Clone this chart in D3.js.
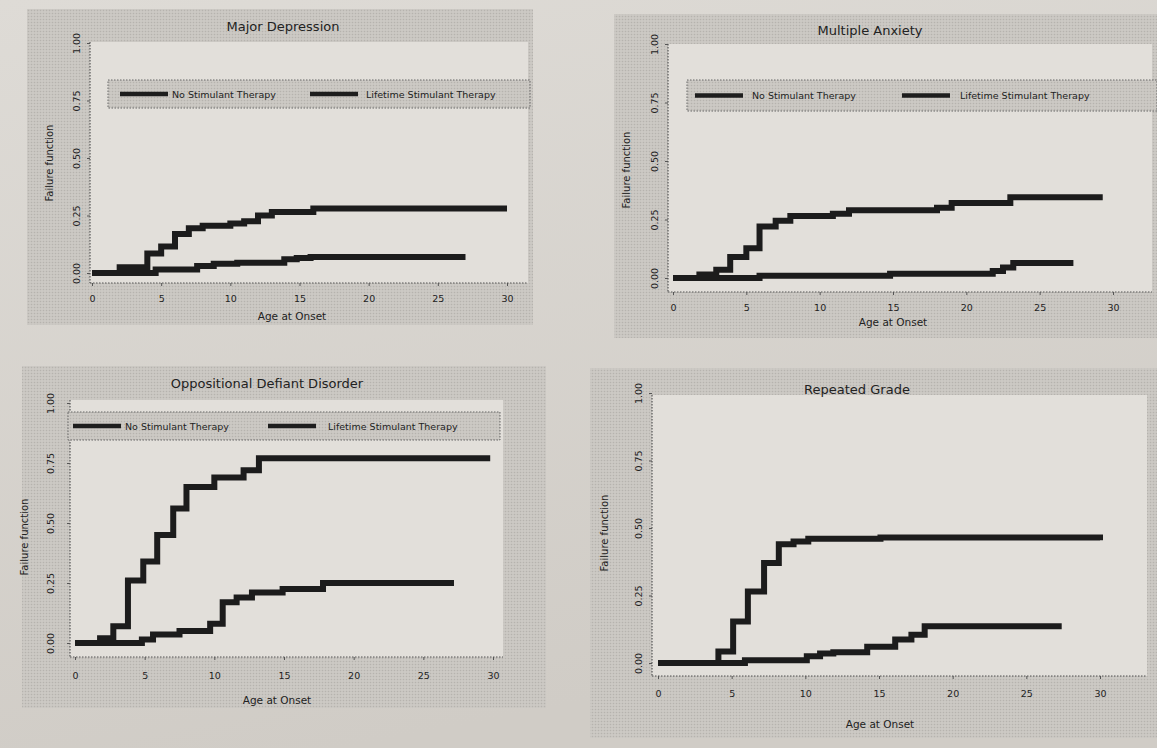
<!DOCTYPE html>
<html lang="en">
<head>
<meta charset="UTF-8">
<title>Failure functions by stimulant therapy</title>
<script src="https://d3js.org/d3.v7.min.js"></script>
<style>
  html, body { margin: 0; padding: 0; background: #d6d2cc; }
  svg { display: block; }
  text { font-family: "DejaVu Sans", Verdana, sans-serif; fill: #222; }
</style>
</head>
<body>
<svg id="chart"></svg>
<script>
// ---- data ----
var panelTitles = ["Major Depression", "Multiple Anxiety", "Oppositional Defiant Disorder", "Repeated Grade"];
var seriesNames = ["No Stimulant Therapy", "Lifetime Stimulant Therapy"];
var xTicks = [0, 5, 10, 15, 20, 25, 30];
var yTicks = [0, 0.25, 0.5, 0.75, 1];

// step curves: ages where the function jumps, and the value after each jump
var mdAgesA = [0, 2, 4, 5, 6, 7, 8, 10, 11, 12, 13, 16, 30];
var mdValsA = [0, 0.025, 0.085, 0.115, 0.17, 0.195, 0.205, 0.215, 0.225, 0.25, 0.265, 0.28, 0.28];
var mdAgesB = [0, 4.6, 7.6, 8.8, 10.5, 13.9, 14.8, 15.8, 27];
var mdValsB = [0, 0.015, 0.03, 0.04, 0.045, 0.06, 0.065, 0.07, 0.07];

var maAgesA = [0, 1.8, 2.95, 3.9, 5, 5.9, 7, 8, 10.9, 12, 18, 19, 23, 29.3];
var maValsA = [0, 0.015, 0.035, 0.09, 0.127, 0.22, 0.245, 0.265, 0.275, 0.29, 0.3, 0.32, 0.345, 0.345];
var maAgesB = [0, 5.9, 14.8, 21.8, 22.5, 23.2, 27.3];
var maValsB = [0, 0.01, 0.018, 0.03, 0.045, 0.064, 0.064];

var oddAgesA = [0, 1.8, 2.75, 3.8, 4.9, 5.9, 7.05, 8, 10, 12.1, 13.2, 29.8];
var oddValsA = [0, 0.02, 0.07, 0.26, 0.34, 0.45, 0.56, 0.65, 0.69, 0.72, 0.77, 0.77];
var oddAgesB = [0, 4.8, 5.6, 7.5, 9.7, 10.6, 11.6, 12.7, 14.9, 17.8, 27.2];
var oddValsB = [0, 0.015, 0.035, 0.05, 0.08, 0.17, 0.19, 0.21, 0.225, 0.25, 0.25];

var rgAgesA = [0, 4.1, 5.1, 6.1, 7.2, 8.2, 9.2, 10.2, 15.1, 30];
var rgValsA = [0, 0.043, 0.154, 0.265, 0.37, 0.44, 0.45, 0.46, 0.465, 0.455];
var rgAgesB = [0, 5.9, 10.1, 11, 11.9, 14.2, 16.1, 17.2, 18.1, 27.4];
var rgValsB = [0, 0.01, 0.025, 0.035, 0.04, 0.06, 0.087, 0.105, 0.136, 0.136];

function pairs(ages, vals) {
  return ages.map(function (a, i) { return { age: a, value: vals[i] }; });
}

// ---- layout of the four panels (pixel boxes) ----
var panels = [
  { title: panelTitles[0], series: [pairs(mdAgesA, mdValsA), pairs(mdAgesB, mdValsB)],
    outer: [27, 9, 533, 325], plot: [90, 42, 528, 283], xr: [92, 507], yr: [273, 43],
    legend: { box: [108, 80, 530, 108], items: [[120, 172], [310, 366]] },
    titleXY: [283, 31], xTitle: [292, 320], yTitle: [53, 163], xPad: 9, yPad: 5 },
  { title: panelTitles[1], series: [pairs(maAgesA, maValsA), pairs(maAgesB, maValsB)],
    outer: [614, 14, 1157, 338], plot: [668, 44, 1152, 292], xr: [673, 1113], yr: [278, 44],
    legend: { box: [687, 80, 1157, 111], items: [[695, 752], [902, 960]] },
    titleXY: [870, 35], xTitle: [893, 326], yTitle: [630, 170], xPad: 9, yPad: 5 },
  { title: panelTitles[2], series: [pairs(oddAgesA, oddValsA), pairs(oddAgesB, oddValsB)],
    outer: [22, 366, 546, 708], plot: [70, 400, 503, 657], xr: [75, 493], yr: [643, 403],
    legend: { box: [68, 412, 500, 440], items: [[73, 125], [268, 328]] },
    titleXY: [267, 388], xTitle: [277, 704], yTitle: [28, 537], xPad: 12, yPad: 11 },
  { title: panelTitles[3], series: [pairs(rgAgesA, rgValsA), pairs(rgAgesB, rgValsB)],
    outer: [590, 368, 1157, 738], plot: [652, 395, 1147, 676], xr: [658, 1100], yr: [663, 393],
    legend: null,
    titleXY: [857, 394], xTitle: [880, 728], yTitle: [608, 533], xPad: 11, yPad: 5 }
];

var W = 1157, H = 748;
var svg = d3.select("#chart").attr("width", W).attr("height", H);

// halftone textures
var defs = svg.append("defs");
var pat = defs.append("pattern").attr("id", "dots")
    .attr("width", 3).attr("height", 3).attr("patternUnits", "userSpaceOnUse");
pat.append("rect").attr("width", 3).attr("height", 3).attr("fill", "#ccc9c4");
pat.append("circle").attr("cx", 1.5).attr("cy", 1.5).attr("r", 0.8).attr("fill", "#b6b3ae");

var grad = defs.append("linearGradient").attr("id", "page")
    .attr("x1", 0).attr("y1", 0).attr("x2", 0.3).attr("y2", 1);
grad.append("stop").attr("offset", 0).attr("stop-color", "#dedbd6");
grad.append("stop").attr("offset", 1).attr("stop-color", "#d0ccc6");

svg.append("rect").attr("width", W).attr("height", H).attr("fill", "url(#page)");

var fmt = d3.format(".2f");

panels.forEach(function (p) {
  var g = svg.append("g");

  var x = d3.scaleLinear().domain([0, 30]).range(p.xr);
  var y = d3.scaleLinear().domain([0, 1]).range(p.yr);

  // outer panel with dotted texture
  g.append("rect")
      .attr("x", p.outer[0]).attr("y", p.outer[1])
      .attr("width", p.outer[2] - p.outer[0]).attr("height", p.outer[3] - p.outer[1])
      .attr("fill", "url(#dots)");

  // plot area
  g.append("rect")
      .attr("x", p.plot[0]).attr("y", p.plot[1])
      .attr("width", p.plot[2] - p.plot[0]).attr("height", p.plot[3] - p.plot[1])
      .attr("fill", "#e2dfda");

  // title
  g.append("text")
      .attr("x", p.titleXY[0]).attr("y", p.titleXY[1])
      .attr("text-anchor", "middle")
      .attr("font-size", 13)
      .text(p.title);

  // x axis
  var xAxis = g.append("g")
      .attr("transform", "translate(0," + p.plot[3] + ")")
      .call(d3.axisBottom(x).tickValues(xTicks).tickSize(3).tickPadding(p.xPad).tickFormat(d3.format("d")));
  xAxis.select(".domain").attr("d", "M" + p.plot[0] + ",0H" + p.plot[2]);

  // y axis
  var yAxis = g.append("g")
      .attr("transform", "translate(" + p.plot[0] + ",0)")
      .call(d3.axisLeft(y).tickValues(yTicks).tickSize(3).tickPadding(p.yPad).tickFormat(fmt));
  yAxis.select(".domain").attr("d", "M0," + p.plot[1] + "V" + p.plot[3]);
  yAxis.selectAll(".tick text")
      .attr("transform", "rotate(-90)")
      .attr("text-anchor", "middle")
      .attr("x", 0)
      .attr("y", -(p.yPad + 5))
      .attr("dy", "0");

  [xAxis, yAxis].forEach(function (ax) {
    ax.select(".domain").attr("stroke", "#555").attr("stroke-width", 1.2).attr("stroke-dasharray", "1.5,1.5");
    ax.selectAll(".tick line").attr("stroke", "#555");
    ax.selectAll(".tick text").attr("font-size", 9.5).attr("fill", "#2a2a2a")
        .style("font-family", "'DejaVu Sans', Verdana, sans-serif");
  });

  // axis titles
  g.append("text")
      .attr("x", p.xTitle[0]).attr("y", p.xTitle[1])
      .attr("text-anchor", "middle").attr("font-size", 10.5)
      .text("Age at Onset");
  g.append("text")
      .attr("transform", "translate(" + p.yTitle[0] + "," + p.yTitle[1] + ") rotate(-90)")
      .attr("text-anchor", "middle").attr("font-size", 10)
      .text("Failure function");

  // legend
  if (p.legend) {
    var b = p.legend.box;
    g.append("rect")
        .attr("x", b[0]).attr("y", b[1])
        .attr("width", b[2] - b[0]).attr("height", b[3] - b[1])
        .attr("fill", "url(#dots)")
        .attr("stroke", "#666").attr("stroke-dasharray", "1.5,1.5");
    var midY = (b[1] + b[3]) / 2;
    p.legend.items.forEach(function (it, i) {
      g.append("line")
          .attr("x1", it[0]).attr("x2", it[0] + 48)
          .attr("y1", midY).attr("y2", midY)
          .attr("stroke", "#1e1e1e").attr("stroke-width", 4.5);
      g.append("text")
          .attr("x", it[1]).attr("y", midY + 3.5)
          .attr("font-size", 9.5)
          .text(seriesNames[i]);
    });
  }

  // step curves
  var line = d3.line()
      .x(function (d) { return x(d.age); })
      .y(function (d) { return y(d.value); })
      .curve(d3.curveStepAfter);

  p.series.forEach(function (s) {
    g.append("path")
        .datum(s)
        .attr("d", line)
        .attr("fill", "none")
        .attr("stroke", "#1c1c1c")
        .attr("stroke-width", 6)
        .attr("stroke-linejoin", "miter");
  });
});
</script>
</body>
</html>
